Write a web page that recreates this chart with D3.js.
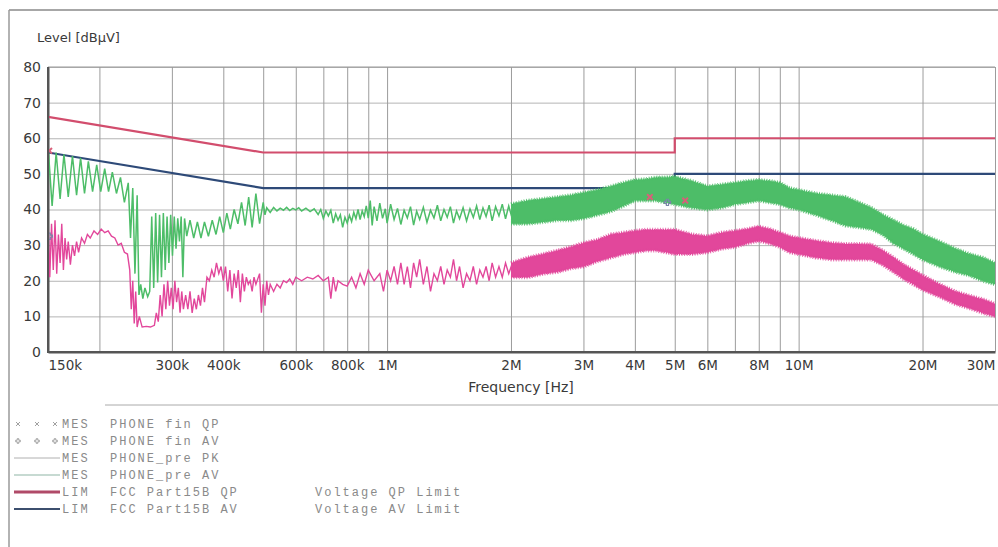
<!DOCTYPE html>
<html>
<head>
<meta charset="utf-8">
<script src="https://cdn.jsdelivr.net/npm/d3@7"></script>
<style>
  html, body { margin: 0; padding: 0; background: #ffffff; }
  svg { display: block; }
</style>
</head>
<body>
<svg id="chart" width="998" height="547"></svg>
<script>
// ---------------- DATA ----------------
// Frequencies in MHz, levels in dBµV
const levelTicks = [0, 10, 20, 30, 40, 50, 60, 70, 80];
const freqTicks = [0.15, 0.3, 0.4, 0.6, 0.8, 1, 2, 3, 4, 5, 6, 8, 10, 20, 30];
const freqTickLabels = ["150k", "300k", "400k", "600k", "800k", "1M", "2M", "3M", "4M", "5M", "6M", "8M", "10M", "20M", "30M"];
const gridFreqs = [0.2, 0.3, 0.4, 0.5, 0.6, 0.7, 0.8, 0.9, 1, 2, 3, 4, 5, 6, 7, 8, 9, 10, 20, 30];

// Limit lines
const qpLimitFreq = [0.15, 0.5, 5, 5, 30];
const qpLimitLevel = [66, 56, 56, 60, 60];
const avLimitFreq = [0.15, 0.5, 5, 5, 30];
const avLimitLevel = [56, 46, 46, 50, 50];

// PHONE_pre PK (green) – spiky part below 2 MHz, read point by point
const pkFreq = [0.150,0.1535,0.157,0.1605,0.164,0.168,0.172,0.176,0.180,0.184,0.188,0.1925,0.197,0.2015,0.206,0.2105,0.215,0.220,0.225,0.230,0.235,0.238,0.241,0.244,0.247,0.2495,0.252,0.255,0.258,0.262,0.265,0.268,0.271,0.274,0.277,0.280,0.283,0.286,0.289,0.292,0.295,0.298,0.301,0.304,0.307,0.310,0.313,0.316,0.319,0.322,0.326,0.332,0.339,0.346,0.353,0.360,0.368,0.376,0.384,0.392,0.400,0.408,0.416,0.425,0.434,0.443,0.452,0.461,0.470,0.480,0.490,
  0.500,0.505,0.51,0.52,0.53,0.54,0.55,0.56,0.57,0.58,0.59,0.60,0.61,0.62,0.635,0.65,0.665,0.68,0.69,0.70,0.71,0.72,0.73,0.74,0.75,0.76,0.77,0.78,0.79,0.80,0.81,0.82,0.83,0.84,0.85,0.86,0.87,0.88,0.89,0.90,0.91,0.92,0.93,0.945,0.96,0.975,0.99,1.00,1.02,1.04,1.06,1.08,1.10,1.12,1.14,1.16,1.18,1.20,1.225,1.25,1.275,1.30,1.325,1.35,1.375,1.40,1.425,1.45,1.475,1.50,1.53,1.56,1.59,1.62,1.65,1.68,1.71,1.74,1.77,1.80,1.835,1.87,1.905,1.94,1.975,2.01,2.05,2.09];
const pkLevel = [58,41,56,43,55.5,43.5,55,44,54.5,44.5,53.5,45,52.5,45,51.5,45,50.5,44.5,49,42,47.5,32,46,22,44,16,19,15,18,15.5,17,38,18,39,19.5,38.5,21,39,23,38,25,38.5,27,38,29,37.5,31,38,21,37.5,32.5,37,32,36.5,32,36.5,32.5,37,33,38,33.5,39,34.5,40,36,42,35.5,43.5,35,44.5,36,
  42,38.5,40.5,39.2,40.6,39.6,40.4,39.8,40.6,39.7,40.3,39.9,40.5,39.6,40.4,39.4,40.2,38.6,40,37.5,39.6,38.2,39.8,36.2,38.8,37,38.5,35,37.8,36.2,38.4,36.6,39.2,37.4,40,37.2,39.6,38,41,37.6,42.5,35.5,40.8,36.8,41.8,37.5,40.2,36.2,41.5,37.2,40.3,35.8,39.8,37.6,40.8,35.6,39.5,37.2,40.6,36.4,39.8,37.6,41.2,36.8,40,37.8,40.8,36.2,39.6,37.4,40.5,36.8,40.2,37.8,41,37.2,40.4,38,41.2,36.8,40.8,38.2,41.5,37.4,41,37.8,41.2,36.8];

// Dense bands above 2 MHz: upper / lower envelopes
const bandFreq = [2.0,2.2,2.4,2.6,2.8,3.0,3.25,3.5,3.75,4.0,4.25,4.5,4.75,5.0,5.5,6.0,6.5,7.0,7.5,8.0,8.5,9.0,9.5,10,11,12,13,14,15,16,17,18,19,20,22,24,26,28,30];
const pkBandHi = [41.5,42.5,43,43.5,44,44.7,45.5,46.5,47.5,48.3,48.5,49,49,49.2,48,46.5,47,47.5,48,48.3,48,47.5,46,45.5,44.5,44,43.5,42,40.5,38.5,37,35.5,34.5,33,31,29,27.5,26.5,25];
const pkBandLo = [36,36,36.5,37,37,37.5,38.5,39.5,41,42.5,42.5,42.5,42,41.5,40.5,40,40.5,41.5,42,42.5,42,41.5,40.5,40,38.5,37,35.5,35,34.5,33,30.5,29,27.5,26,24,22.5,21.5,20,19];
const avBandHi = [25,26.5,27.5,28.5,29.5,30.6,31.5,33,33.5,34,34.3,34.3,34.3,34.3,33,32.5,33.5,34,34.5,35.2,34.5,33.5,32.5,32,31.2,30.6,30.3,30.3,30.2,28.5,26.5,24.5,23,21.5,19,17,15.8,14.8,13.5];
const avBandLo = [21,21,22,22.5,23.5,24,25.5,26.5,27.5,28,28.5,28.5,28,27.5,27.5,28,29,29.5,30.5,31.2,30.5,29.5,28,27.5,26.5,26,26,26,26,24.5,22.5,20.5,19,17.5,15.5,13.5,12.3,11,10];

// PHONE_pre AV (magenta) – spiky part below 2 MHz
const avFreq = [0.150,0.1515,0.153,0.1545,0.156,0.1575,0.159,0.1605,0.162,0.1635,0.165,0.1665,0.168,0.170,0.172,0.174,0.176,0.178,0.181,0.184,0.187,0.190,0.194,0.198,0.202,0.206,0.210,0.214,0.218,0.222,0.226,0.230,0.234,0.237,0.239,0.241,0.243,0.245,0.247,0.250,0.254,0.260,0.266,0.272,0.275,0.278,0.281,0.284,0.287,0.290,0.293,0.296,0.299,0.302,0.305,0.308,0.311,0.314,0.317,0.320,0.324,0.328,0.332,0.336,0.340,0.344,0.348,0.352,0.356,0.360,0.365,0.370,0.375,0.380,0.385,0.390,0.395,0.400,0.405,0.410,0.415,0.420,0.425,0.430,0.435,0.440,0.445,0.450,0.455,0.460,0.465,0.470,0.475,0.480,0.490,0.495,0.500,0.505,0.510,0.515,0.520,0.53,0.54,0.55,0.56,0.57,0.58,0.59,0.60,0.62,0.64,0.66,0.68,0.70,0.72,0.73,0.74,0.75,0.76,0.78,0.80,0.82,0.84,0.86,0.88,0.90,0.93,0.96,0.98,1.00,1.02,1.04,1.06,1.08,1.10,1.12,1.14,1.16,1.18,1.20,1.225,1.25,1.275,1.30,1.325,1.35,1.375,1.40,1.425,1.45,1.475,1.50,1.53,1.56,1.59,1.62,1.65,1.68,1.71,1.74,1.77,1.80,1.835,1.87,1.905,1.94,1.975,2.01,2.045,2.08];
const avLevel = [38,21,36,23,37,22,33,25,36,23,32,26,31,24.5,30,27,31,28,32,30.5,33,32,34,33,34.5,33.5,34,32.5,32,30,30.5,28,27.5,23,12,20,8,17,7,10,7,7.2,7,7.5,11,8.5,16,10,19,12,20,13,18,12,20,14,18,11,17,12,16,12,17,11,15,12,16,13,18,14,21,20,23,21,25,22,24,20,24,17,23,15,22,18,23,14,22,17,21,19,20,17,21,19,22,11,19,13,20,16,19,17,19,18,20,19.5,20.5,19,21,20,21,20.5,21.5,20,21,15,21,17,20,19,18.5,21,18,22,19,23,20,22,17,23,20,24,19,25,19,24,18,25,21,26,19,24,17,22,20,24,19,23,21,26,20,24,18,22,20,24,19,23,21,24,20,25,21,24,21,25,22,24.5,22,25];

// Final measurements (markers)
const qpFinalFreq = [0.151, 4.35, 5.3];
const qpFinalLevel = [56.5, 43.5, 42.5];
const avFinalFreq = [0.151, 4.8];
const avFinalLevel = [32.5, 42];

// Legend
const legendType = ["MES", "MES", "MES", "MES", "LIM", "LIM"];
const legendName = ["PHONE fin QP", "PHONE fin AV", "PHONE_pre PK", "PHONE_pre AV", "FCC Part15B QP", "FCC Part15B AV"];
const legendDesc = ["", "", "", "", "Voltage QP Limit", "Voltage AV Limit"];

// ---------------- DRAW ----------------
const svg = d3.select("#chart");
const W = 998, H = 547;
const plot = { left: 48, right: 995, top: 67, bottom: 352 };

const x = d3.scaleLog().domain([0.15, 30]).range([plot.left, plot.right]);
const y = d3.scaleLinear().domain([0, 80]).range([plot.bottom, plot.top]);

const COL = {
  pk: "#4dbd68",
  av: "#e2479b",
  qp: "#d24d6d",
  avLim: "#2e4a78",
  grid: "#b4b4b4",
  axis: "#555",
  text: "#3a3a3a",
  legend: "#8a8a8a"
};

// outer frame
svg.append("line").attr("x1", 9).attr("x2", 998).attr("y1", 10).attr("y2", 10)
  .attr("stroke", "#8a8a8a").attr("stroke-width", 1.5);
svg.append("line").attr("x1", 9).attr("x2", 9).attr("y1", 10).attr("y2", H)
  .attr("stroke", "#9a9a9a").attr("stroke-width", 1.5);
svg.append("line").attr("x1", 105).attr("x2", 998).attr("y1", 405).attr("y2", 405)
  .attr("stroke", "#aaaaaa").attr("stroke-width", 1);

// grid (horizontal)
const gy = svg.append("g").attr("class", "grid-y")
  .attr("transform", `translate(${plot.left},0)`)
  .call(d3.axisLeft(y).tickValues(levelTicks).tickSize(-(plot.right - plot.left)).tickFormat(""));
gy.select(".domain").remove();
gy.selectAll("line").attr("stroke", COL.grid).attr("stroke-width", 1);

// grid (vertical)
const gx = svg.append("g").attr("class", "grid-x")
  .attr("transform", `translate(0,${plot.bottom})`)
  .call(d3.axisBottom(x).tickValues(gridFreqs).tickSize(-(plot.bottom - plot.top)).tickFormat(""));
gx.select(".domain").remove();
gx.selectAll("line").attr("stroke", "#9c9c9c").attr("stroke-width", 1);

// plot border top
svg.append("line").attr("x1", plot.left).attr("x2", plot.right).attr("y1", plot.top).attr("y2", plot.top)
  .attr("stroke", "#999").attr("stroke-width", 1);

// axes labels
const ay = svg.append("g").attr("transform", `translate(${plot.left},0)`)
  .call(d3.axisLeft(y).tickValues(levelTicks).tickSize(0).tickPadding(7).tickFormat(d3.format("d")));
ay.select(".domain").attr("stroke", COL.axis).attr("stroke-width", 2);
ay.selectAll("text").attr("font-family", "DejaVu Sans, sans-serif").attr("font-size", 14).attr("fill", COL.text);

const ax = svg.append("g").attr("transform", `translate(0,${plot.bottom})`)
  .call(d3.axisBottom(x).tickValues(freqTicks).tickSize(0).tickPadding(8)
    .tickFormat((d, i) => freqTickLabels[i]));
ax.select(".domain").attr("stroke", COL.axis).attr("stroke-width", 2);
ax.selectAll("text").attr("font-family", "DejaVu Sans, sans-serif").attr("font-size", 13.5).attr("fill", COL.text)
  .attr("text-anchor", (d, i) => i === 0 ? "start" : (i === freqTicks.length - 1 ? "end" : "middle"));

svg.append("text").attr("x", 37).attr("y", 42).text("Level [dBµV]")
  .attr("font-family", "DejaVu Sans, sans-serif").attr("font-size", 13).attr("fill", COL.text);
svg.append("text").attr("x", 521).attr("y", 392).attr("text-anchor", "middle").text("Frequency [Hz]")
  .attr("font-family", "DejaVu Sans, sans-serif").attr("font-size", 14).attr("fill", COL.text);

// clip
svg.append("clipPath").attr("id", "clip").append("rect")
  .attr("x", plot.left).attr("y", plot.top).attr("width", plot.right - plot.left).attr("height", plot.bottom - plot.top);
const pg = svg.append("g").attr("clip-path", "url(#clip)");

// limit lines
const limLine = d3.line().x(d => x(d[0])).y(d => y(d[1]));
pg.append("path").datum(d3.zip(qpLimitFreq, qpLimitLevel)).attr("d", limLine)
  .attr("fill", "none").attr("stroke", COL.qp).attr("stroke-width", 2.2);
pg.append("path").datum(d3.zip(avLimitFreq, avLimitLevel)).attr("d", limLine)
  .attr("fill", "none").attr("stroke", COL.avLim).attr("stroke-width", 2.2);

// traces
const band = d3.area().x(d => x(d[0])).y0(d => y(d[2])).y1(d => y(d[1]));
const edgeHi = d3.line().x(d => x(d[0])).y(d => y(d[1]));
const edgeLo = d3.line().x(d => x(d[0])).y(d => y(d[2]));
const trace = d3.line().x(d => x(d[0])).y(d => y(d[1]));

function drawBand(freqs, hi, lo, color) {
  const data = d3.zip(freqs, hi, lo);
  pg.append("path").datum(data).attr("d", band).attr("fill", color);
  // hairy noise fringe along both envelopes
  [edgeHi, edgeLo].forEach(gen => {
    pg.append("path").datum(data).attr("d", gen)
      .attr("fill", "none").attr("stroke", color).attr("stroke-width", 4)
      .attr("stroke-dasharray", "1 1.6").attr("opacity", 0.75);
    pg.append("path").datum(data).attr("d", gen)
      .attr("fill", "none").attr("stroke", color).attr("stroke-width", 1.8)
      .attr("stroke-dasharray", "1.3 0.9");
  });
}

drawBand(bandFreq, pkBandHi, pkBandLo, COL.pk);
pg.append("path").datum(d3.zip(pkFreq, pkLevel)).attr("d", trace)
  .attr("fill", "none").attr("stroke", COL.pk).attr("stroke-width", 1.5);

drawBand(bandFreq, avBandHi, avBandLo, COL.av);
pg.append("path").datum(d3.zip(avFreq, avLevel)).attr("d", trace)
  .attr("fill", "none").attr("stroke", COL.av).attr("stroke-width", 1.4);

// final markers
const cross = d3.symbol().type(d3.symbolX).size(22);
pg.selectAll(".qpf").data(d3.zip(qpFinalFreq, qpFinalLevel)).join("path")
  .attr("transform", d => `translate(${x(d[0])},${y(d[1])})`).attr("d", cross)
  .attr("fill", "none").attr("stroke", "#d9607a").attr("stroke-width", 2);
pg.selectAll(".avf").data(d3.zip(avFinalFreq, avFinalLevel)).join("path")
  .attr("transform", d => `translate(${x(d[0])},${y(d[1])})`).attr("d", d3.symbol().type(d3.symbolCross).size(22))
  .attr("fill", "none").attr("stroke", "#7a86a8").attr("stroke-width", 1.2);

// axis lines on top
svg.append("line").attr("x1", plot.left).attr("x2", plot.left).attr("y1", plot.top).attr("y2", plot.bottom + 1)
  .attr("stroke", COL.axis).attr("stroke-width", 2);
svg.append("line").attr("x1", plot.left).attr("x2", plot.right).attr("y1", plot.bottom).attr("y2", plot.bottom)
  .attr("stroke", COL.axis).attr("stroke-width", 2);

// legend
const lg = svg.append("g").attr("font-family", "Liberation Mono, DejaVu Sans Mono, monospace")
  .attr("font-size", 12).attr("fill", COL.legend).attr("letter-spacing", 2);
const rowY = i => 424 + i * 17;
legendType.forEach((t, i) => {
  lg.append("text").attr("x", 62).attr("y", rowY(i) + 4).text(t);
  lg.append("text").attr("x", 110).attr("y", rowY(i) + 4).text(legendName[i]);
  if (legendDesc[i]) lg.append("text").attr("x", 315).attr("y", rowY(i) + 4).text(legendDesc[i]);
});
// legend samples
[0, 1].forEach(i => {
  [18, 37, 55].forEach(px => {
    lg.append("path").attr("transform", `translate(${px},${rowY(i)})`)
      .attr("d", d3.symbol().type(i === 0 ? d3.symbolX : d3.symbolCross).size(12))
      .attr("fill", "none").attr("stroke", "#a0a0a0").attr("stroke-width", 1);
  });
});
const sampleStyles = [null, null, ["#b0b0b0", 1], ["#8fb5a5", 1], ["#b04a68", 3], ["#3c4f6e", 2]];
sampleStyles.forEach((s, i) => {
  if (!s) return;
  lg.append("line").attr("x1", 14).attr("x2", 60).attr("y1", rowY(i)).attr("y2", rowY(i))
    .attr("stroke", s[0]).attr("stroke-width", s[1]);
});
</script>
</body>
</html>
